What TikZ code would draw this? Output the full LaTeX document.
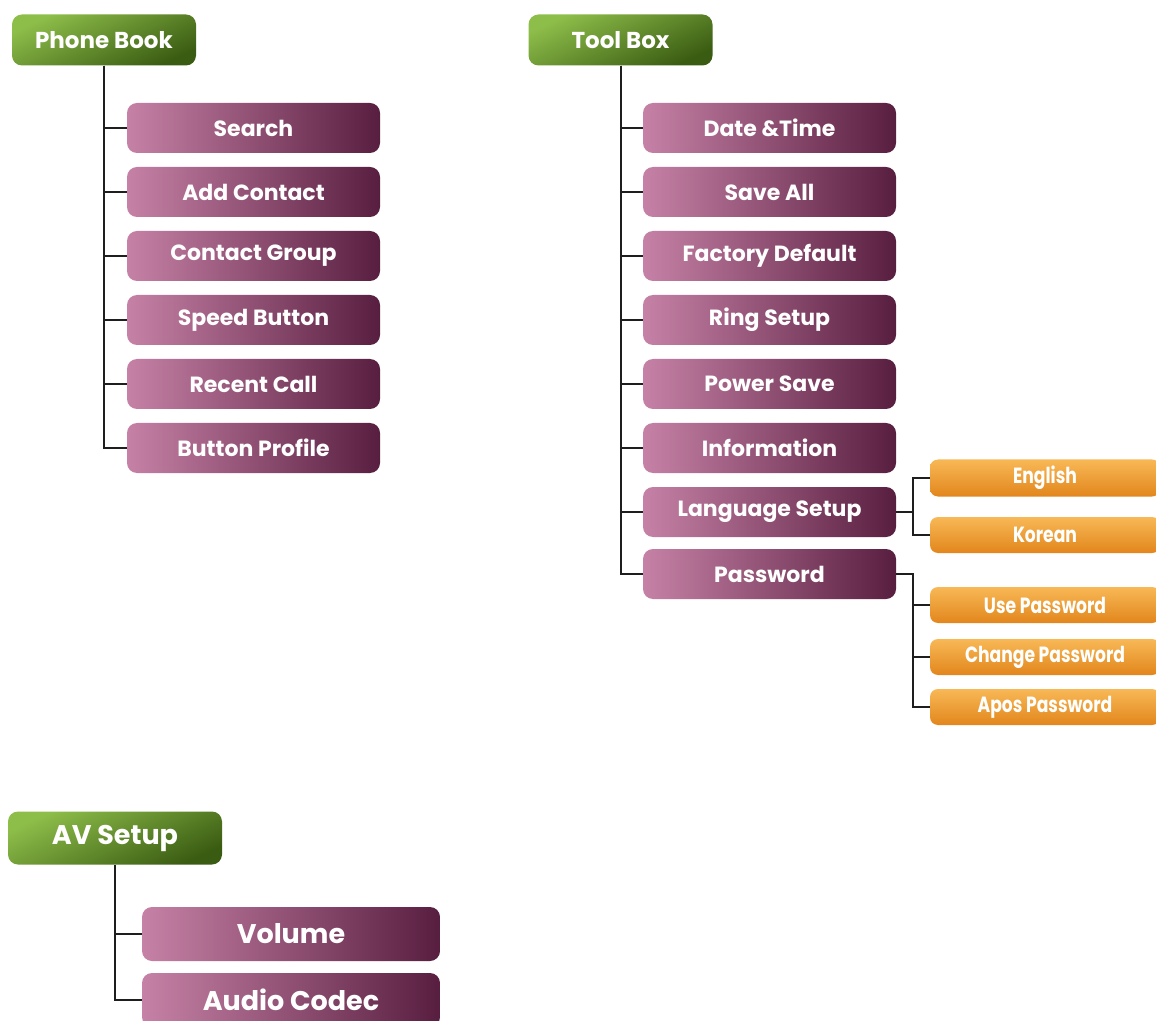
\documentclass[tikz,border=0pt]{standalone}
\usepackage{fontspec}
\setmainfont{Poppins}
\newfontfamily\narrowfont{Poppins}[FakeStretch=0.78]
\usepackage{tikz}
\usetikzlibrary{positioning}
\definecolor{headlight}{RGB}{142,190,74}
\definecolor{headdark}{RGB}{58,92,18}
\definecolor{itemlight}{RGB}{198,130,166}
\definecolor{itemmid}{RGB}{150,76,116}
\definecolor{itemdark}{RGB}{88,30,64}
\definecolor{sublight}{RGB}{248,184,86}
\definecolor{subdark}{RGB}{226,134,28}
\definecolor{treegray}{RGB}{30,30,30}

\begin{document}
\begin{tikzpicture}[x=0.5pt, y=-0.5pt, on grid, node distance=32pt,
    menuhead/.style={rounded corners=5pt, top color=headlight, bottom color=headdark, shading angle=25,
      text=white, font=\bfseries\fontsize{11.5}{13}\selectfont, minimum width=92pt, minimum height=25.5pt},
    menuitem/.style={rounded corners=5pt, left color=itemlight, middle color=itemmid, right color=itemdark,
      text=white, font=\bfseries\fontsize{11}{13}\selectfont, minimum width=126.5pt, minimum height=25pt},
    subitem/.style={rounded corners=4pt, top color=sublight, bottom color=subdark,
      text=white, font=\narrowfont\bfseries\fontsize{11}{12}\selectfont, minimum width=115pt, minimum height=18pt},
    tree/.style={draw=treegray, line width=1pt}]
  \useasboundingbox (0,0) rectangle (1156,1021);

  % phone book
  \node (phonebook) [menuhead] at (104,40) {Phone Book};
  \node (search) [menuitem] at (253.5,128) {Search};
  \node (addcontact) [menuitem, below=of search] {Add Contact};
  \node (contactgroup) [menuitem, below=of addcontact] {Contact Group};
  \node (speedbutton) [menuitem, below=of contactgroup] {Speed Button};
  \node (recentcall) [menuitem, below=of speedbutton] {Recent Call};
  \node (buttonprofile) [menuitem, below=of recentcall] {Button Profile};

  \draw[tree] (phonebook.south) |- (search.west);
  \draw[tree] (phonebook.south) |- (addcontact.west);
  \draw[tree] (phonebook.south) |- (contactgroup.west);
  \draw[tree] (phonebook.south) |- (speedbutton.west);
  \draw[tree] (phonebook.south) |- (recentcall.west);
  \draw[tree] (phonebook.south) |- (buttonprofile.west);

  % tool box
  \node (toolbox) [menuhead] at (620.5,40) {Tool Box};
  \node (datetime) [menuitem] at (769.5,128) {Date \&Time};
  \node (saveall) [menuitem, below=of datetime] {Save All};
  \node (factory) [menuitem, below=of saveall] {Factory Default};
  \node (ringsetup) [menuitem, below=of factory] {Ring Setup};
  \node (powersave) [menuitem, below=of ringsetup] {Power Save};
  \node (information) [menuitem, below=of powersave] {Information};
  \node (language) [menuitem, below=of information] {Language Setup};
  \node (password) [menuitem, below=31pt of language] {Password};

  \draw[tree] (toolbox.south) |- (datetime.west);
  \draw[tree] (toolbox.south) |- (saveall.west);
  \draw[tree] (toolbox.south) |- (factory.west);
  \draw[tree] (toolbox.south) |- (ringsetup.west);
  \draw[tree] (toolbox.south) |- (powersave.west);
  \draw[tree] (toolbox.south) |- (information.west);
  \draw[tree] (toolbox.south) |- (language.west);
  \draw[tree] (toolbox.south) |- (password.west);

  \node (english) [subitem] at (1045,478) {English};
  \node (korean) [subitem, below=28.5pt of english] {Korean};
  \node (usepw) [subitem] at (1045,605) {Use Password};
  \node (changepw) [subitem, below=26pt of usepw] {Change Password};
  \node (apospw) [subitem, below=25pt of changepw] {Apos Password};

  \draw[tree] (language.east) -- ++(17,0) |- (english.west);
  \draw[tree] (language.east) -- ++(17,0) |- (korean.west);
  \draw[tree] (password.east) -- ++(17,0) |- (usepw.west);
  \draw[tree] (password.east) -- ++(17,0) |- (changepw.west);
  \draw[tree] (password.east) -- ++(17,0) |- (apospw.west);

  % av setup
  \node (avsetup) [menuhead, minimum width=107pt, minimum height=26.5pt,
    font=\bfseries\fontsize{13.5}{15}\selectfont] at (115,838) {AV Setup};
  \node (volume) [menuitem, minimum width=149pt, minimum height=27pt,
    font=\bfseries\fontsize{13.5}{15}\selectfont] at (291,934) {Volume};
  \node (audiocodec) [menuitem, minimum width=149pt, minimum height=27pt,
    font=\bfseries\fontsize{13.5}{15}\selectfont, below=33pt of volume] {Audio Codec};

  \draw[tree] (avsetup.south) |- (volume.west);
  \draw[tree] (avsetup.south) |- (audiocodec.west);
\end{tikzpicture}
\end{document}
